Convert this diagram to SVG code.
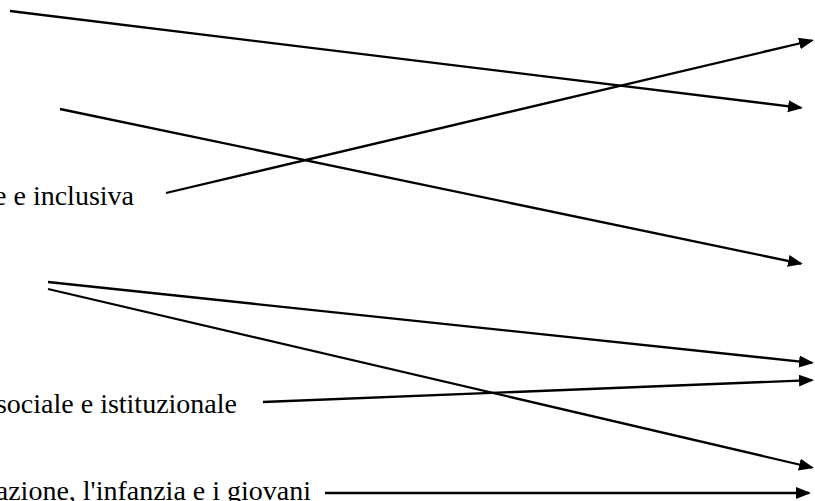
<svg xmlns="http://www.w3.org/2000/svg" width="815" height="501" viewBox="0 0 815 501">
<style>
.lbl{font-family:"Liberation Serif","Times New Roman",serif;font-size:28px;fill:#000;text-anchor:end}
.con line{stroke:#000;stroke-width:2.3;fill:none;marker-end:url(#ah)}
</style>
<defs>
<marker id="ah" markerUnits="userSpaceOnUse" markerWidth="15" markerHeight="13" refX="13" refY="6" orient="auto">
<path d="M0,0 L15,6 L0,12 z" fill="#000"/>
</marker>
</defs>
<rect width="815" height="501" fill="#fff"/>
<g id="node-inclusiva"><text class="lbl" x="134" y="205">e e inclusiva</text></g>
<g id="node-sociale"><text class="lbl" x="237" y="413">sociale e istituzionale</text></g>
<g id="node-giovani"><text class="lbl" x="311" y="500">azione, l'infanzia e i giovani</text></g>
<g id="connectors" class="con">
<line x1="10" y1="11" x2="801" y2="107.8"/>
<line x1="60" y1="109" x2="801" y2="263.6"/>
<line x1="166" y1="193" x2="812" y2="40.5"/>
<line x1="48" y1="282" x2="812" y2="362.8"/>
<line x1="48" y1="289" x2="812" y2="467.5"/>
<line x1="263" y1="402" x2="812" y2="380.1"/>
<line x1="325" y1="493" x2="809" y2="493"/>
</g>
</svg>
